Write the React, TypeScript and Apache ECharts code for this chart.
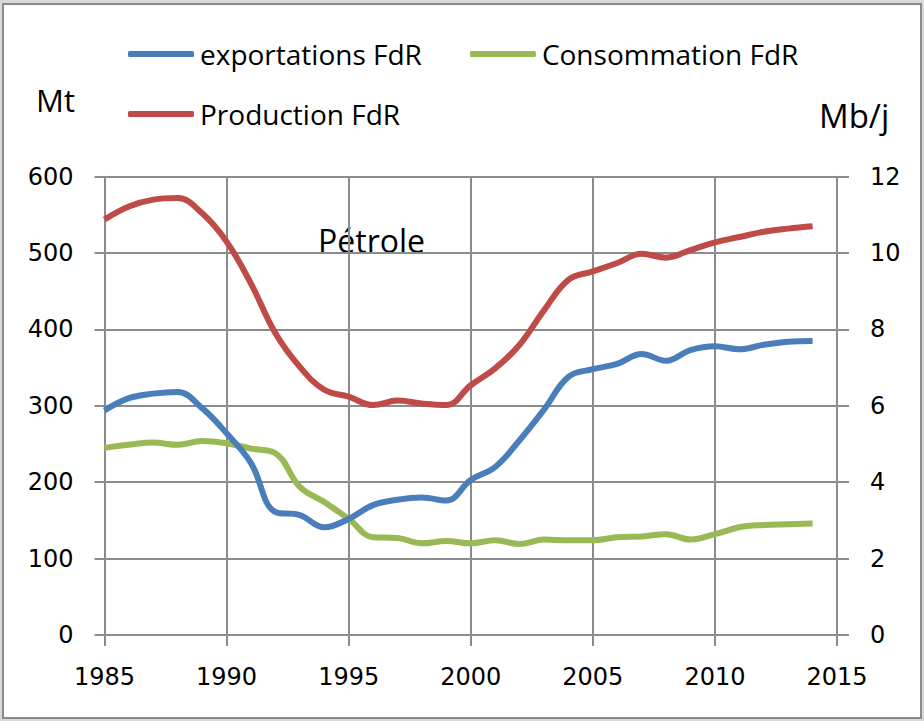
import React, { useEffect, useRef } from "react";
import * as echarts from "echarts";

const years = [1985,1986,1987,1988,1989,1990,1991,1992,1993,1994,1995,1996,1997,1998,1999,2000,2001,2002,2003,2004,2005,2006,2007,2008,2009,2010,2011,2012,2013,2014];
const exportations = [294,310,316,318,297,264,225,161,157,141,152,170,177,180,176,203,220,255,295,338,348,355,368,359,373,378,374,380,384,385];
const consommation = [245,249,252,249,254,251,244,238,194,174,152,128,127,120,123,120,124,119,125,124,124,128,129,132,125,132,141,144,145,146];
const production = [544,561,570,572,552,515,460,395,351,321,312,301,307,303,301,327,349,380,425,465,476,487,499,494,504,514,521,528,532,535];

const xTicks = { min: 1985, max: 2015, interval: 5 };
const leftTicks = { min: 0, max: 600, interval: 100 };
const rightTicks = { min: 0, max: 12, interval: 2 };

const BLUE = "#4a7ebb";
const GREEN = "#98b954";
const RED = "#be4b48";
const GRIDC = "#8c8c8c";
const FONT = "DejaVu Sans";
const LFONT = "Open Sans";

export default function App() {
  const ref = useRef<HTMLDivElement>(null);
  useEffect(() => {
    if (!ref.current) return;
    const chart = echarts.init(ref.current, null, { renderer: "svg" });
    const toPts = (arr: number[]) => years.map((y, i) => [y, arr[i]]);
    const axisLabel = { color: "#000", fontFamily: FONT, fontSize: 24 };
    const legendCommon = {
      itemWidth: 66, itemHeight: 6, itemGap: 48, icon: "roundRect", padding: 0,
      textStyle: { fontFamily: LFONT, fontSize: 28, color: "#000", padding: [0, 0, 0, 1] },
    };
    chart.setOption({
      animation: false,
      backgroundColor: "#d9d9d9",
      graphic: [
        { type: "rect", shape: { x: 3, y: 4, width: 918, height: 714 }, style: { fill: "#fff", stroke: "#8a8a8a", lineWidth: 2 }, z: -10 },
        { type: "text", x: 36, y: 100, style: { text: "Mt", fontFamily: LFONT, fontSize: 31, fill: "#000", verticalAlign: "middle" } },
        { type: "text", x: 819, y: 115, style: { text: "Mb/j", fontFamily: LFONT, fontSize: 33, fill: "#000", verticalAlign: "middle" } },
        { type: "text", x: 318, y: 240, style: { text: "Pétrole", fontFamily: LFONT, fontSize: 32, fill: "#000", verticalAlign: "middle" } },
      ],
      legend: [
        { ...legendCommon, left: 128, top: 40, data: ["exportations FdR", "Consommation FdR"] },
        { ...legendCommon, left: 128, top: 100, data: ["Production FdR"] },
      ],
      grid: { left: 104.5, right: 87, top: 176.7, bottom: 86 },
      xAxis: {
        type: "value", ...xTicks,
        axisLine: { show: true, lineStyle: { color: GRIDC, width: 2 } },
        axisTick: { show: true, length: 11, lineStyle: { color: GRIDC, width: 2 } },
        splitLine: { show: true, lineStyle: { color: GRIDC, width: 2 } },
        axisLabel: { ...axisLabel, margin: 30, formatter: (v: number) => String(v) },
      },
      yAxis: [
        {
          type: "value", ...leftTicks, position: "left",
          axisLine: { show: true, lineStyle: { color: GRIDC, width: 2 } },
          axisTick: { show: true, length: 10, lineStyle: { color: GRIDC, width: 2 } },
          splitLine: { show: true, lineStyle: { color: GRIDC, width: 2 } },
          axisLabel: { ...axisLabel, margin: 31 },
        },
        {
          type: "value", ...rightTicks, position: "right",
          axisLine: { show: true, lineStyle: { color: GRIDC, width: 2 } },
          axisTick: { show: true, length: 12, lineStyle: { color: GRIDC, width: 2 } },
          splitLine: { show: false },
          axisLabel: { ...axisLabel, margin: 33 },
        },
      ],
      series: [
        { name: "exportations FdR", type: "line", smooth: 0.4, showSymbol: false, data: toPts(exportations), lineStyle: { color: BLUE, width: 6 }, itemStyle: { color: BLUE }, z: 3 },
        { name: "Consommation FdR", type: "line", smooth: 0.4, showSymbol: false, data: toPts(consommation), lineStyle: { color: GREEN, width: 6 }, itemStyle: { color: GREEN }, z: 2 },
        { name: "Production FdR", type: "line", smooth: 0.4, showSymbol: false, data: toPts(production), lineStyle: { color: RED, width: 6 }, itemStyle: { color: RED }, z: 4 },
      ],
    });
    return () => chart.dispose();
  }, []);
  return <div ref={ref} style={{ position: "fixed", left: 0, top: 0, width: 924, height: 721 }} />;
}
